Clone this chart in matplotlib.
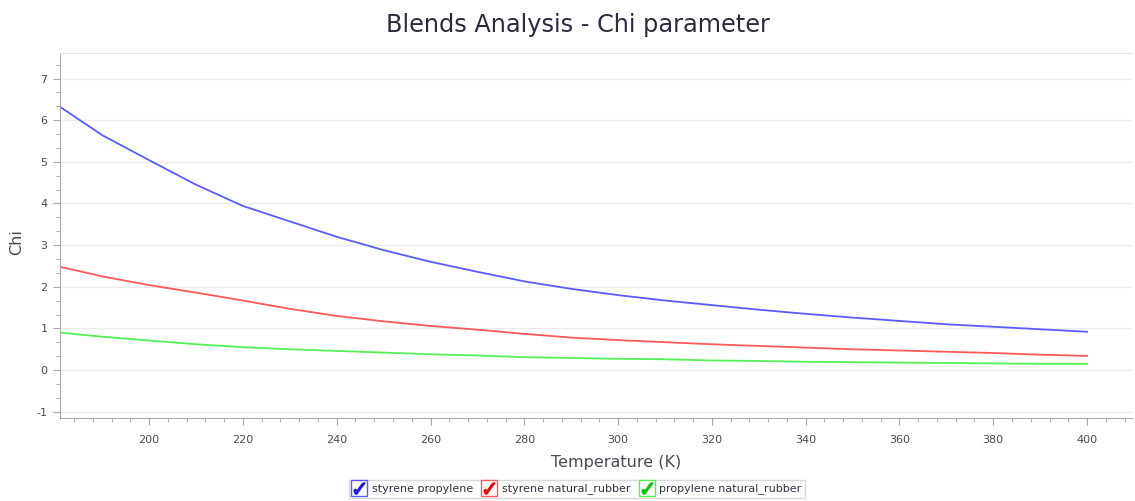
import numpy as np
import matplotlib
matplotlib.use("Agg")
import matplotlib.pyplot as plt
from matplotlib.lines import Line2D
from matplotlib.legend_handler import HandlerTuple
from matplotlib.ticker import MultipleLocator

# temperature grid (K)
temperature = [181, 190, 200, 210, 220, 230, 240, 250, 260, 270, 280, 290,
               300, 310, 320, 330, 340, 350, 360, 370, 380, 390, 400]

chi_styrene_propylene = [6.32, 5.64, 5.04, 4.45, 3.94, 3.57, 3.20, 2.88, 2.60, 2.36,
                         2.13, 1.95, 1.80, 1.67, 1.56, 1.45, 1.35, 1.26, 1.18, 1.10,
                         1.04, 0.98, 0.92]
chi_styrene_rubber = [2.48, 2.25, 2.04, 1.86, 1.67, 1.47, 1.30, 1.17, 1.06, 0.97,
                      0.87, 0.78, 0.72, 0.67, 0.62, 0.58, 0.54, 0.50, 0.47, 0.44,
                      0.41, 0.37, 0.34]
chi_propylene_rubber = [0.90, 0.80, 0.71, 0.62, 0.55, 0.50, 0.46, 0.42, 0.38, 0.35,
                        0.31, 0.29, 0.27, 0.26, 0.23, 0.22, 0.20, 0.19, 0.18, 0.17,
                        0.16, 0.15, 0.15]

series_names = ["styrene propylene", "styrene natural_rubber", "propylene natural_rubber"]
series_colors = ["#5b5bff", "#ff5a5a", "#55f055"]
check_colors = ["#1f1fd0", "#e01010", "#10c010"]

plt.rcParams['font.family'] = ['DejaVu Sans']
plt.rcParams['axes.unicode_minus'] = False

fig = plt.figure(figsize=(11.35, 5.01), dpi=100)
ax = fig.add_axes([0.0529, 0.1657, 0.9445, 0.7283])

for vals, c in zip([chi_styrene_propylene, chi_styrene_rubber, chi_propylene_rubber],
                   series_colors):
    ax.plot(temperature, vals, color=c, lw=1.3)

ax.set_xlim(181, 409.6)
ax.set_ylim(-1.15, 7.61)
ax.xaxis.set_major_locator(MultipleLocator(20))
ax.xaxis.set_minor_locator(MultipleLocator(4))
ax.yaxis.set_major_locator(MultipleLocator(1))
ax.yaxis.set_minor_locator(MultipleLocator(1 / 3))

ax.grid(axis='y', which='major', color='#ececec', lw=1.0)
ax.set_axisbelow(True)

ax.spines['right'].set_visible(False)
ax.spines['top'].set_color('#e6e6e6')
ax.spines['left'].set_color('#a8a8a8')
ax.spines['bottom'].set_color('#a8a8a8')

ax.tick_params(which='major', length=5, color='#a8a8a8', labelsize=8,
               labelcolor='#4a4a55', pad=4)
ax.tick_params(which='minor', length=3, color='#a8a8a8')
ax.tick_params(axis='x', pad=7)

fig.text(578 / 1135, 1 - 25 / 501, "Blends Analysis - Chi parameter",
         ha='center', va='center', fontsize=17.3, color='#2b2b3d')
fig.text(17 / 1135, 1 - 242 / 501, "Chi", rotation=90, ha='center', va='center',
         fontsize=11.5, color='#4a4a55')
fig.text(616 / 1135, 1 - 462 / 501, "Temperature (K)", ha='center', va='center',
         fontsize=11.5, color='#4a4a55')

# checkbox-style legend entries
handles = []
for c, cc in zip(series_colors, check_colors):
    box = Line2D([], [], marker='s', markersize=12, markerfacecolor='white',
                 markeredgecolor=c, markeredgewidth=1.0, linestyle='none')
    tick = Line2D([], [], marker=r'$\checkmark$', markersize=8, color=cc,
                  linestyle='none')
    handles.append((box, tick))

leg = fig.legend(handles, series_names, loc='center', bbox_to_anchor=(577 / 1135, 1 - 489 / 501),
                 ncol=3, fontsize=8, frameon=True, fancybox=False,
                 handler_map={tuple: HandlerTuple(ndivide=1)},
                 handlelength=1.2, handletextpad=0.5, columnspacing=0.9,
                 borderpad=0.35, edgecolor='#d0d0d0')
leg.get_frame().set_linewidth(1.0)
for t in leg.get_texts():
    t.set_color('#333344')

fig.savefig("out.png", dpi=100, facecolor='white')
